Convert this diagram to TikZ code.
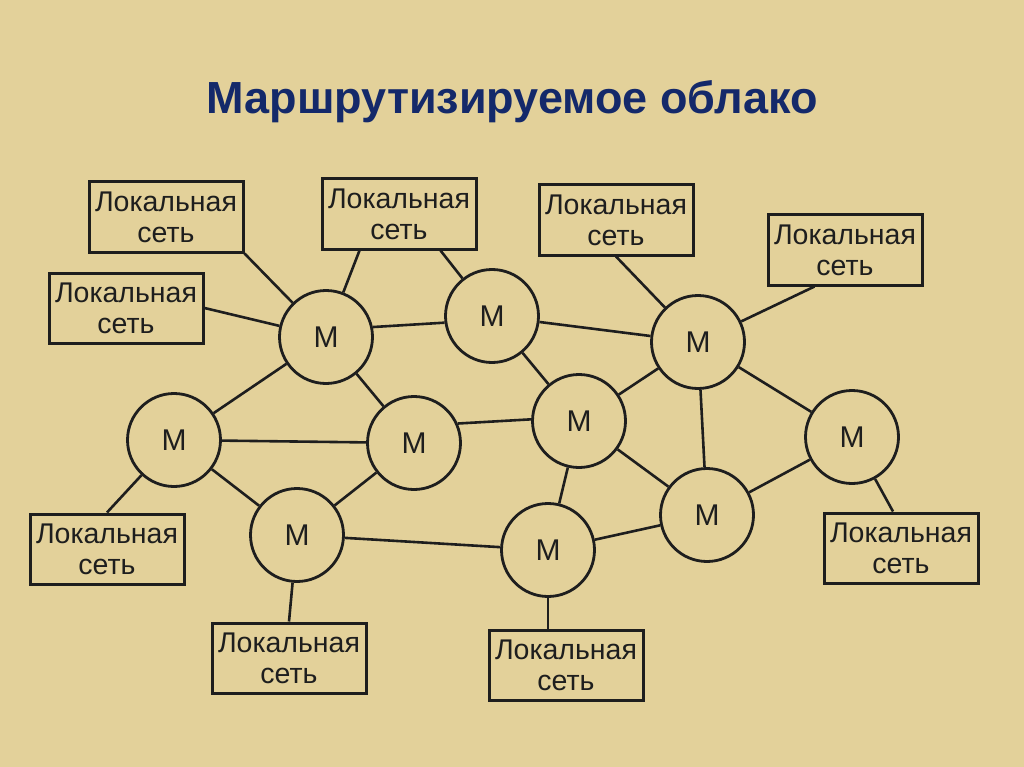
\documentclass[tikz,border=0pt]{standalone}
\usepackage{fontspec}
\setmainfont{Liberation Sans}
\usetikzlibrary{positioning,calc}
\definecolor{parch}{HTML}{E3D19A}
\definecolor{navy}{HTML}{14296A}
\definecolor{ink}{HTML}{1E1E1E}
\tikzset{lan/.style={draw=ink,line width=3pt,align=center,font=\fontsize{28.5}{31}\selectfont,text=ink,minimum width=154pt,minimum height=70pt,inner sep=2pt},router/.style={circle,draw=ink,line width=2.8pt,font=\fontsize{30}{32}\selectfont,text=ink,minimum size=93pt,inner sep=0pt},link/.style={draw=ink,line width=2.6pt}}

\begin{document}
\begin{tikzpicture}[x=1pt,y=-1pt]
\fill[parch] (0,0) rectangle (1024,767);
\node[font=\fontsize{45}{50}\selectfont\bfseries,text=navy] (title) at (512,102) {Маршрутизируемое облако};
% маршрутизаторы
\node[router] (m1) at (326,337) {М};
\node[router] (m2) at (492,316) {М};
\node[router] (m3) at (698,342) {М};
\node[router] (m4) at (174,440) {М};
\node[router] (m5) at (414,443) {М};
\node[router] (m6) at (579,421) {М};
\node[router] (m7) at (852,437) {М};
\node[router] (m8) at (297,535) {М};
\node[router] (m9) at (548,550) {М};
\node[router] (m10) at (707,515) {М};
% локальные сети
\node[lan] (l1) at (166,217) {Локальная\\сеть};
\node[lan] (l2) at (399,214) {Локальная\\сеть};
\node[lan] (l3) at (616,220) {Локальная\\сеть};
\node[lan] (l4) at (845,250) {Локальная\\сеть};
\node[lan] (l5) at (126,308) {Локальная\\сеть};
\node[lan] (l6) at (107,549) {Локальная\\сеть};
\node[lan] (l7) at (289,658) {Локальная\\сеть};
\node[lan] (l8) at (566,665) {Локальная\\сеть};
\node[lan] (l9) at (901,548) {Локальная\\сеть};
% связи сеть -- маршрутизатор
\draw[link] (l1.south east)--(m1);\draw[link] ($(l2.south west)+(39,0)$)--(m1);\draw[link] ($(l2.south east)+(-37,0)$)--(m2);
\draw[link] (l5.east)--(m1);\draw[link] (l3.south)--(m3);\draw[link] ($(l4.south west)+(48,0)$)--(m3);
\draw[link] (l6.north)--(m4);\draw[link] (l7.north)--(m8);\draw[link] (m9.south)--(m9.south |- l8.north);\draw[link] ($(l9.north)+(-8,0)$)--(m7);
% связи между маршрутизаторами
\draw[link] (m1.12)--(m2.188);\draw[link] (m1)--(m4);\draw[link] (m1)--(m5);
\draw[link] (m2)--(m3);\draw[link] (m2)--(m6);
\draw[link] (m3)--(m6);\draw[link] (m3)--(m10);\draw[link] (m3)--(m7);
\draw[link] (m4)--(m5);\draw[link] (m4)--(m8);
\draw[link] (m5.24)--(m6.178);\draw[link] (m5)--(m8);
\draw[link] (m8)--(m9);\draw[link] (m6)--(m9);\draw[link] (m6)--(m10);
\draw[link] (m9)--(m10);\draw[link] (m10)--(m7);
\end{tikzpicture}
\end{document}
